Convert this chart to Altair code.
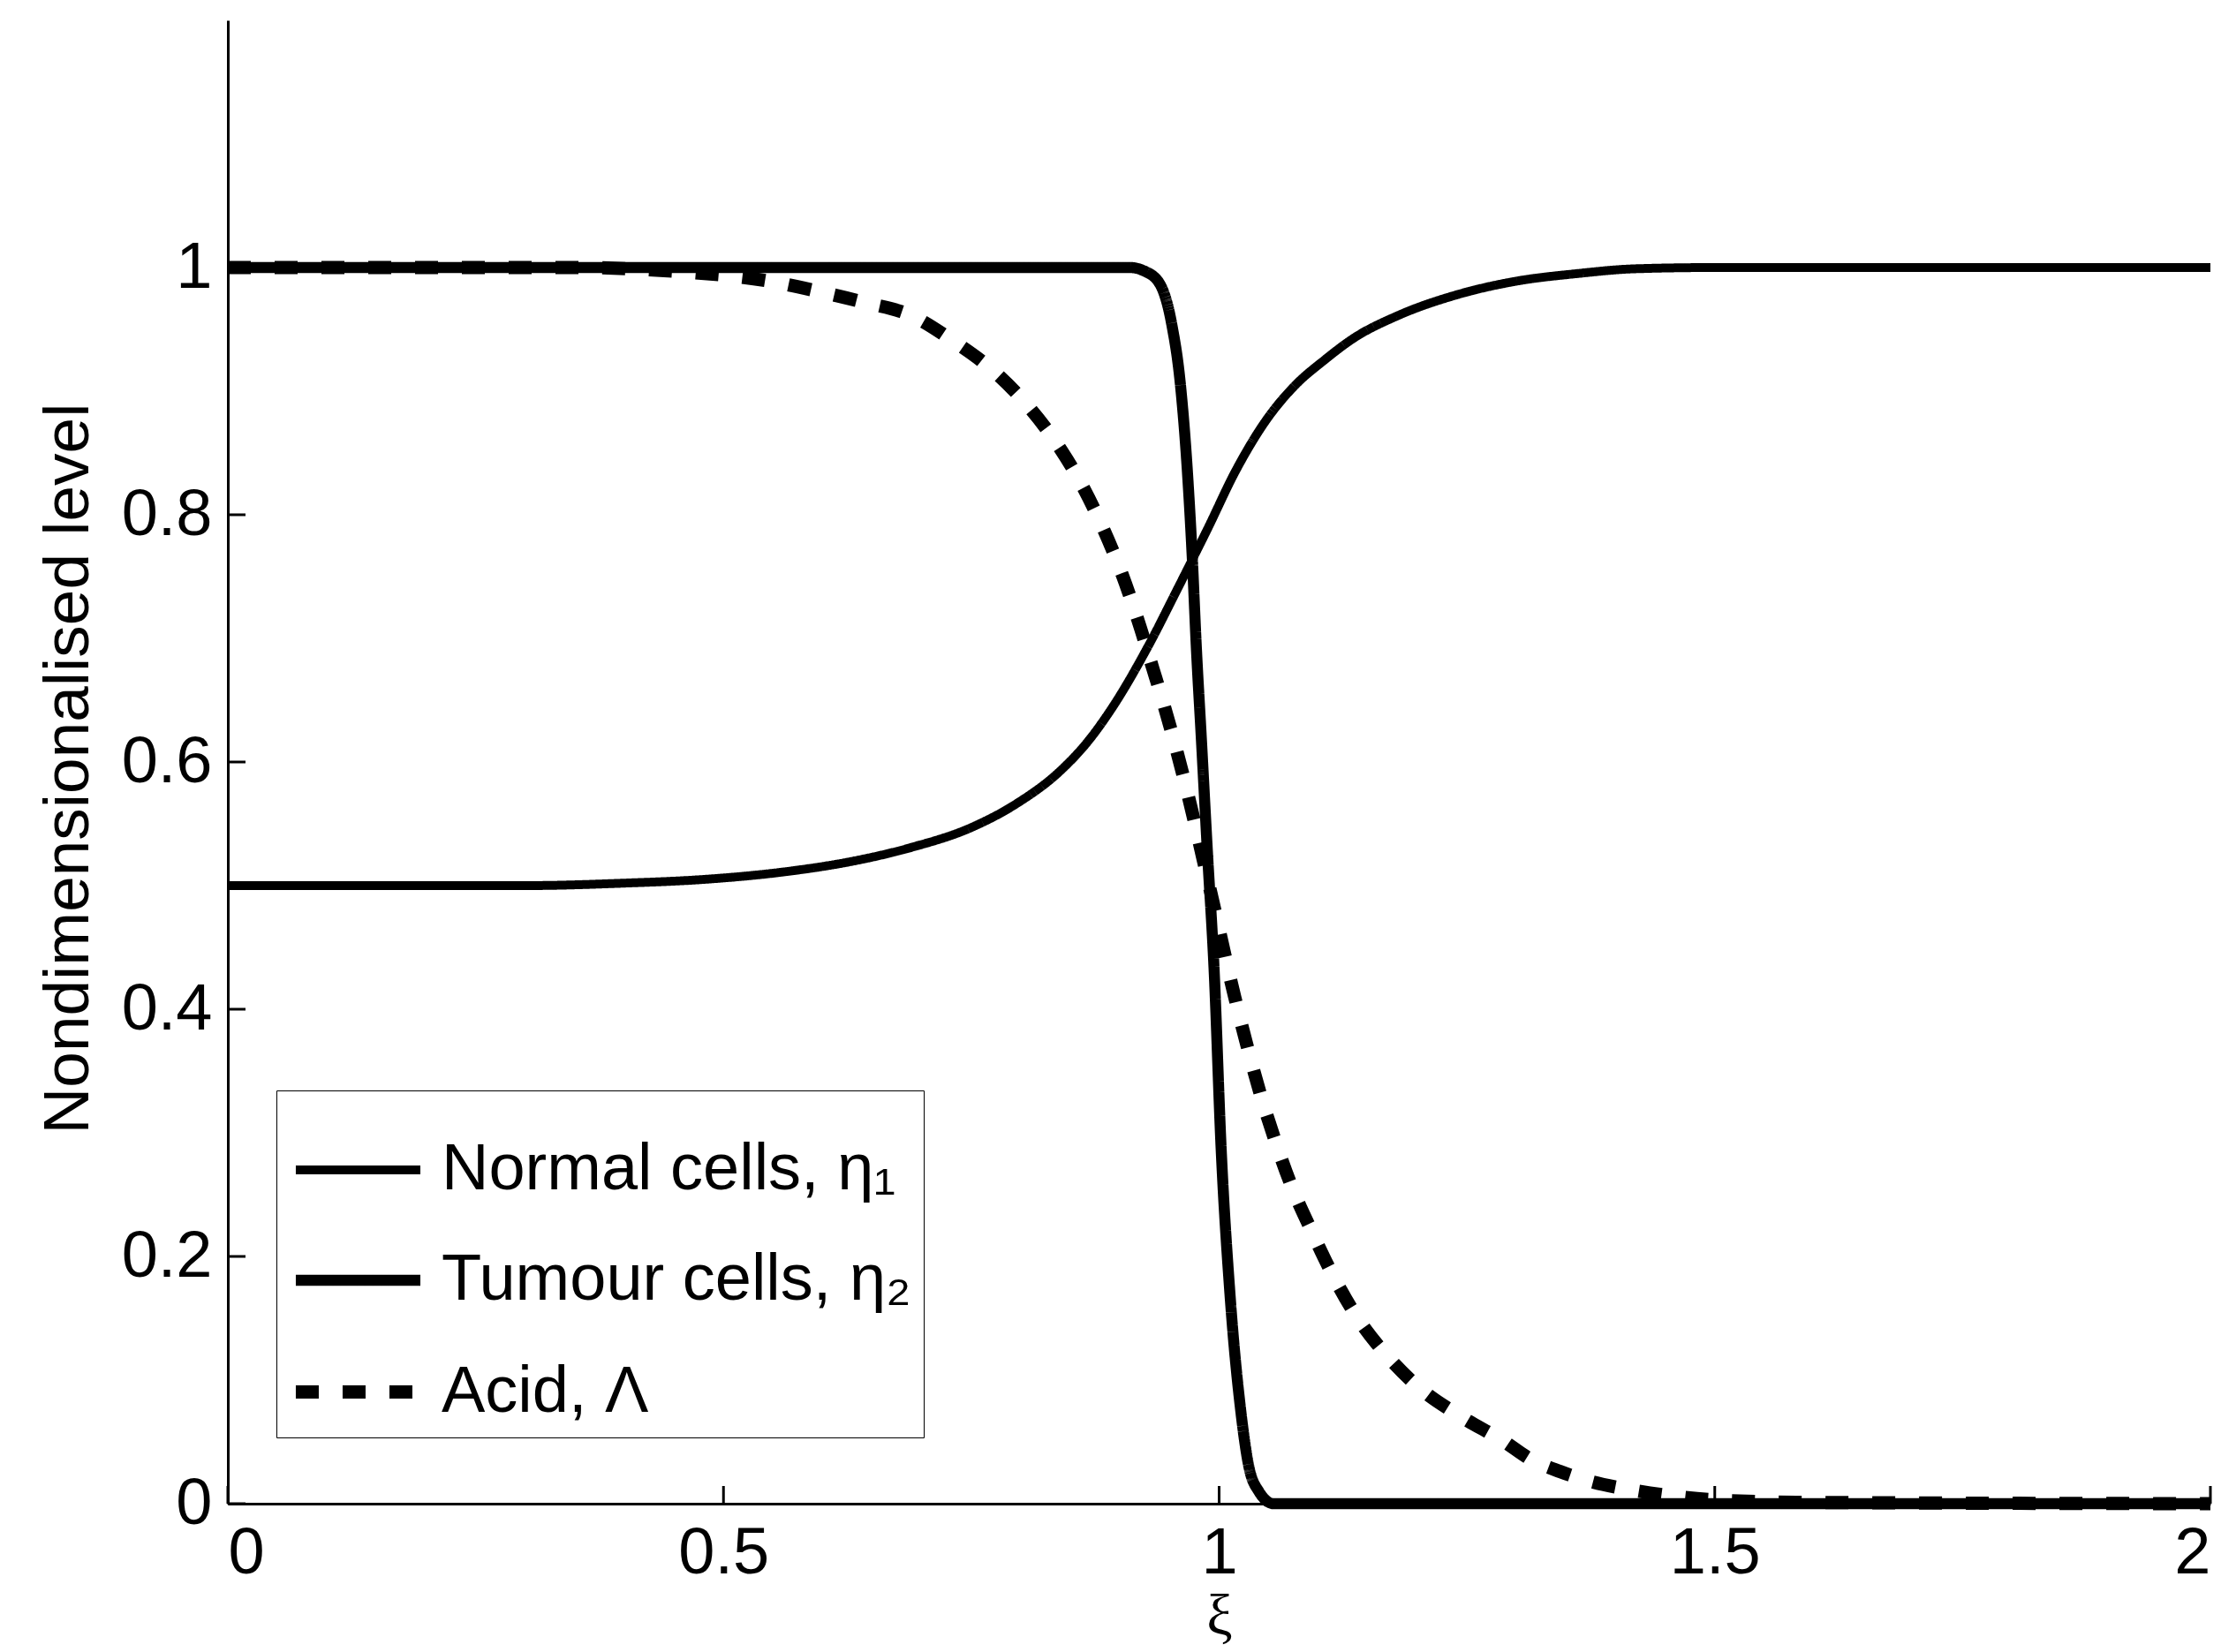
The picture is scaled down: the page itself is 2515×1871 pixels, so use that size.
import altair as alt
import pandas as pd

# ---- data ----
normal_x = [0.0, 0.3, 0.4, 0.48, 0.56, 0.632, 0.69, 0.75, 0.795, 0.84, 0.867, 0.893, 0.928, 0.958, 0.988,
            1.017, 1.047, 1.077, 1.106, 1.136, 1.18, 1.24, 1.3, 1.36, 1.42, 1.5, 2.0]
normal_y = [0.5, 0.5, 0.502, 0.505, 0.511, 0.52, 0.531, 0.547, 0.566, 0.593, 0.616, 0.645, 0.693, 0.740, 0.788,
            0.836, 0.876, 0.905, 0.925, 0.943, 0.961, 0.978, 0.989, 0.995, 0.999, 1.0, 1.0]

tumour_x = [0.0, 0.91, 0.925, 0.94, 0.952, 0.961, 0.968, 0.973, 0.977, 0.982, 0.988, 0.995, 1.002, 1.011,
            1.022, 1.03, 1.04, 1.055, 2.0]
tumour_y = [1.0, 1.0, 0.997, 0.987, 0.955, 0.905, 0.835, 0.764, 0.693, 0.62, 0.53, 0.431, 0.288, 0.169,
            0.074, 0.03, 0.01, 0.0, 0.0]

acid_x = [0.0, 0.35, 0.45, 0.546, 0.594, 0.641, 0.69, 0.731, 0.77, 0.805, 0.835, 0.861, 0.883, 0.902, 0.918,
          0.933, 0.944, 0.965, 0.99, 1.016, 1.028, 1.041, 1.056, 1.073, 1.093, 1.114, 1.139, 1.169, 1.203,
          1.245, 1.288, 1.314, 1.344, 1.375, 1.41, 1.45, 1.5, 1.6, 2.0]
acid_y = [1.0, 1.0, 0.997, 0.989, 0.981, 0.972, 0.961, 0.941, 0.918, 0.89, 0.859, 0.825, 0.789, 0.752, 0.715,
          0.676, 0.647, 0.585, 0.5, 0.409, 0.371, 0.333, 0.295, 0.257, 0.221, 0.186, 0.151, 0.12, 0.093,
          0.07, 0.05, 0.036, 0.026, 0.018, 0.012, 0.007, 0.003, 0.001, 0.0]

series_names = ["Normal cells, η₁", "Tumour cells, η₂", "Acid, Λ"]
x_ticks = [0, 0.5, 1, 1.5, 2]
y_ticks = [0, 0.2, 0.4, 0.6, 0.8, 1]

rows = []
for n, (xs, ys) in zip(series_names, [(normal_x, normal_y), (tumour_x, tumour_y), (acid_x, acid_y)]):
    for i, (a, b) in enumerate(zip(xs, ys)):
        rows.append({"series": n, "xi": a, "level": b, "order": i})
df = pd.DataFrame(rows)

W, H = 2245, 1680
FONT = "Liberation Sans, Arial"
TICK_LEN = 20

x_scale = alt.Scale(domain=[0, 2], nice=False)
y_scale = alt.Scale(domain=[0, 1.2], nice=False)

x_axis = alt.Axis(values=x_ticks, format=".1~f", title="ξ", grid=False, ticks=False,
                  labelFontSize=74, labelFont=FONT, labelColor="black", labelPadding=20,
                  domainColor="black", domainWidth=3,
                  titleFont="Liberation Serif", titleFontSize=66, titleFontWeight="normal",
                  titleColor="black", titlePadding=2)
y_axis = alt.Axis(values=y_ticks, format=".1~f", title="Nondimensionalised level", grid=False,
                  ticks=False, labelFontSize=74, labelFont=FONT, labelColor="black",
                  labelPadding=18, domainColor="black", domainWidth=3,
                  titleFont=FONT, titleFontSize=73, titleFontWeight="normal",
                  titleColor="black", titleX=-181, titleY=847, titleAngle=270,
                  titleAlign="center", titleBaseline="middle")

lines = alt.Chart(df).mark_line(interpolate="monotone", strokeCap="butt").encode(
    x=alt.X("xi:Q", scale=x_scale, axis=x_axis),
    y=alt.Y("level:Q", scale=y_scale, axis=y_axis),
    color=alt.Color("series:N", scale=alt.Scale(domain=series_names, range=["black", "black", "black"]),
                    legend=alt.Legend(title=None, orient="none", legendX=55, legendY=1212,
                                      labelFontSize=74, labelFont=FONT, labelColor="black",
                                      symbolType="stroke", symbolSize=19900, symbolStrokeColor="black",
                                      strokeColor="black", fillColor="white", padding=14,
                                      rowPadding=11, labelOffset=16, labelLimit=1000)),
    strokeDash=alt.StrokeDash("series:N", scale=alt.Scale(domain=series_names,
                              range=[[1, 0], [1, 0], [26, 27]]), legend=None),
    strokeWidth=alt.StrokeWidth("series:N", scale=alt.Scale(domain=series_names, range=[10, 15, 13]),
                                legend=None),
    order="order:Q",
)

ytick_df = pd.DataFrame({"xi": [0] * len(y_ticks), "level": y_ticks})
xtick_df = pd.DataFrame({"xi": x_ticks, "level": [0] * len(x_ticks)})

yticks = alt.Chart(ytick_df).mark_rule(color="black", strokeWidth=3).encode(
    y=alt.Y("level:Q", scale=y_scale, axis=y_axis),
    x=alt.value(0), x2=alt.value(TICK_LEN),
)
xticks = alt.Chart(xtick_df).mark_rule(color="black", strokeWidth=3).encode(
    x=alt.X("xi:Q", scale=x_scale, axis=x_axis),
    y=alt.value(H), y2=alt.value(H - TICK_LEN),
)

chart = alt.layer(lines, yticks, xticks).properties(
    width=W, height=H,
    background="white",
    padding={"left": 258, "top": 23, "right": 12, "bottom": 168},
    autosize=alt.AutoSizeParams(type="none"),
).configure_view(stroke="white", strokeWidth=4)

chart.save("out.html", embed_options={"renderer": "svg", "actions": False})
